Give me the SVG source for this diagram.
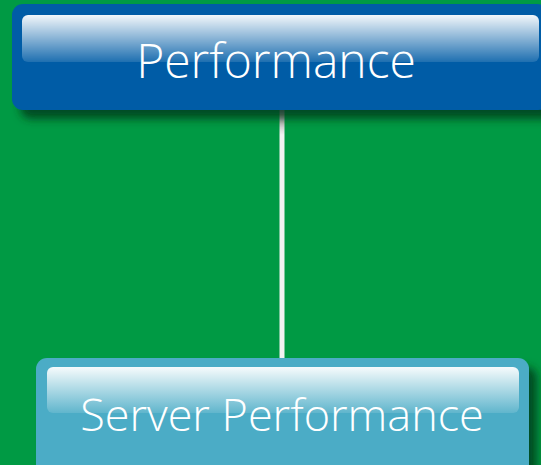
<svg xmlns="http://www.w3.org/2000/svg" width="541" height="465" viewBox="0 0 541 465">
<defs>
<linearGradient id="gloss" x1="0" y1="0" x2="0" y2="1">
<stop offset="0" stop-color="#ffffff" stop-opacity="0.95"/>
<stop offset="1" stop-color="#ffffff" stop-opacity="0.12"/>
</linearGradient>
<filter id="shadow" x="-10%" y="-20%" width="130%" height="160%">
<feGaussianBlur in="SourceAlpha" stdDeviation="4"/>
<feOffset dx="8" dy="9" result="b"/>
<feFlood flood-color="#003318" flood-opacity="0.75"/>
<feComposite in2="b" operator="in"/>
<feMerge><feMergeNode/><feMergeNode in="SourceGraphic"/></feMerge>
</filter>
<linearGradient id="conn" x1="0" y1="0" x2="0" y2="1">
<stop offset="0" stop-color="#8a8a8a"/>
<stop offset="0.1" stop-color="#f2f2f2"/>
<stop offset="1" stop-color="#f2f2f2"/>
</linearGradient>
</defs>
<style>
.lbl{font-family:"Open Sans","Liberation Sans",sans-serif;font-weight:300;fill:#ffffff;text-anchor:middle}
</style>
<rect x="0" y="0" width="541" height="465" fill="#009a44"/>
<g id="connectors">
<rect x="279.5" y="110" width="5" height="249" fill="url(#conn)"/>
</g>
<g id="node-performance">
<rect x="12" y="4" width="537" height="106" rx="11" fill="#005ca6" filter="url(#shadow)"/>
<rect x="22" y="15" width="517" height="47" rx="6" fill="url(#gloss)"/>
<text class="lbl" x="276" y="78" font-size="48">Performance</text>
</g>
<g id="node-server-performance">
<rect x="36" y="358" width="493" height="120" rx="11" fill="#4bacc6" filter="url(#shadow)"/>
<rect x="47" y="367" width="472" height="46" rx="6" fill="url(#gloss)"/>
<text class="lbl" x="282" y="431" font-size="45">Server Performance</text>
</g>
</svg>
